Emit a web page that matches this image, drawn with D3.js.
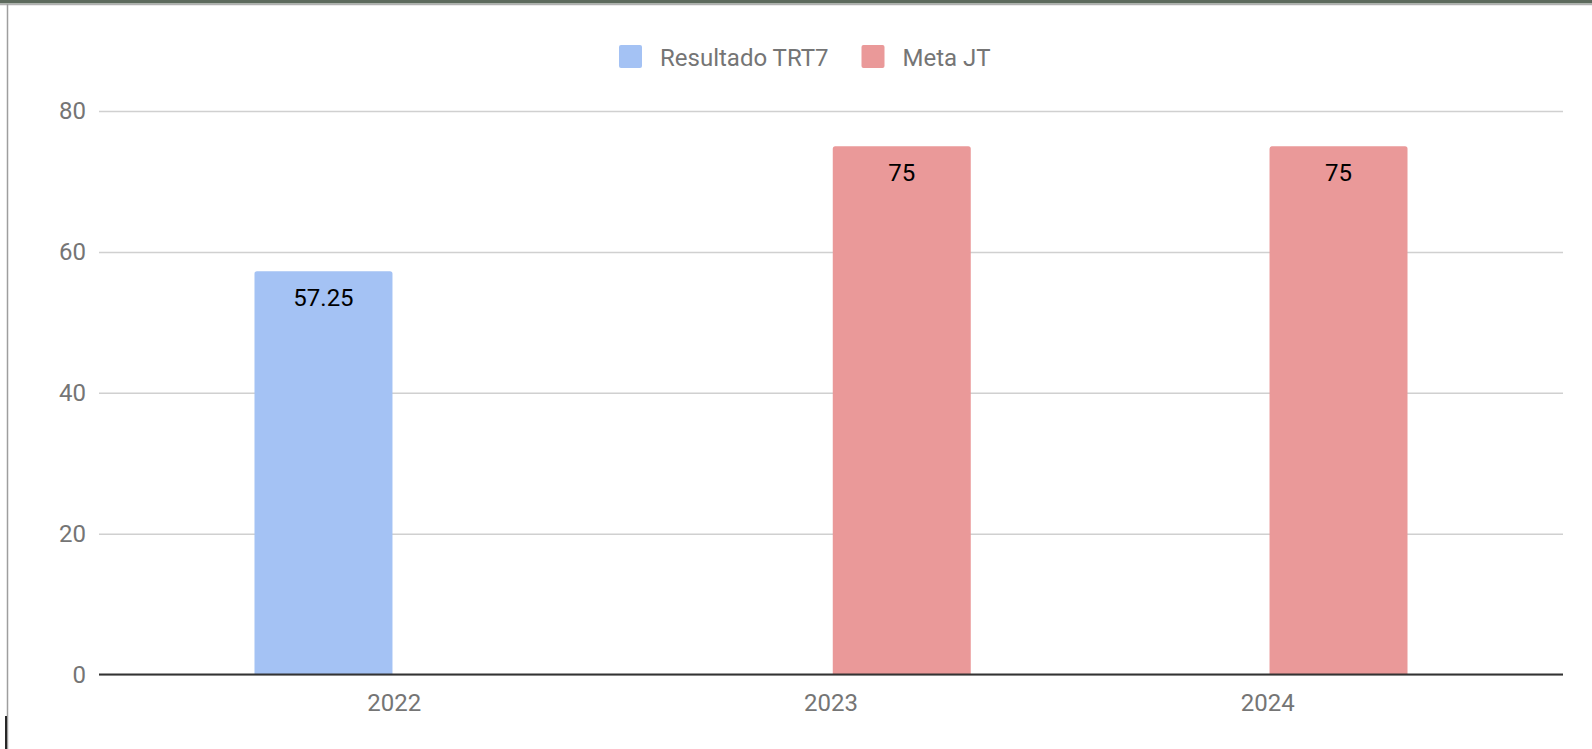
<!DOCTYPE html>
<html>
<head>
<meta charset="utf-8">
<script src="https://cdn.jsdelivr.net/npm/d3@7"></script>
<style>
  html, body { margin: 0; padding: 0; background: #fff; }
  svg { display: block; }
</style>
</head>
<body>
<svg id="chart" width="1592" height="749"></svg>
<script>
const categories = ["2022", "2023", "2024"];
const seriesNames = ["Resultado TRT7", "Meta JT"];
const resultadoTRT7 = [57.25, null, null];
const metaJT = [null, 75, 75];
const yTicks = [0, 20, 40, 60, 80];
const seriesColors = ["#a4c2f4", "#ea9999"];

const W = 1592, H = 749;
const svg = d3.select("#chart");
const font = "Roboto, 'Noto Sans', sans-serif";

// frame decorations
svg.append("rect").attr("x", 0).attr("y", 0).attr("width", W).attr("height", 3.5).attr("fill", "#5d6a5d");
svg.append("line").attr("x1", 0).attr("x2", W).attr("y1", 4.5).attr("y2", 4.5).attr("stroke", "#b0b0b0").attr("stroke-width", 1.5);
svg.append("line").attr("x1", 7.5).attr("x2", 7.5).attr("y1", 4).attr("y2", H).attr("stroke", "#9e9e9e").attr("stroke-width", 1.5);
svg.append("line").attr("x1", 6).attr("x2", 6).attr("y1", 716).attr("y2", H).attr("stroke", "#111").attr("stroke-width", 1.8);

const x0 = d3.scaleBand().domain(categories).range([99, 1563]).paddingInner(0.36).paddingOuter(0.356);
const x1 = d3.scaleBand().domain(seriesNames).range([0, x0.bandwidth()]).paddingInner(0.025);
const y = d3.scaleLinear().domain([0, 80]).range([674.5, 111]);

// gridlines
const yAxis = d3.axisLeft(y).tickValues(yTicks).tickSize(-(1563 - 99)).tickPadding(13);
const gy = svg.append("g").attr("transform", "translate(99,0)").call(yAxis);
gy.select(".domain").remove();
gy.selectAll(".tick line").attr("stroke", "#d0d0d0").attr("stroke-width", 1.5);
gy.selectAll(".tick text").attr("fill", "#757575").style("font-family", font).style("font-size", "24px");

// bars
const data = [];
categories.forEach((c, i) => {
  [resultadoTRT7, metaJT].forEach((arr, s) => {
    if (arr[i] != null) data.push({ cat: c, series: seriesNames[s], value: arr[i], color: seriesColors[s] });
  });
});

const r = 2.5;
function barPath(d) {
  const xl = x0(d.cat) + x1(d.series);
  const w = x1.bandwidth();
  const yt = y(d.value), yb = y(0);
  return `M${xl},${yb} L${xl},${yt + r} Q${xl},${yt} ${xl + r},${yt} L${xl + w - r},${yt} Q${xl + w},${yt} ${xl + w},${yt + r} L${xl + w},${yb} Z`;
}
svg.append("g").selectAll("path").data(data).join("path")
  .attr("d", barPath).attr("fill", d => d.color);

svg.append("g").selectAll("text").data(data).join("text")
  .attr("x", d => x0(d.cat) + x1(d.series) + x1.bandwidth() / 2)
  .attr("y", d => y(d.value) + 35)
  .attr("text-anchor", "middle")
  .attr("fill", "#000")
  .style("font-family", font).style("font-size", "24px")
  .text(d => d.value);

// baseline + x axis labels
const xAxis = d3.axisBottom(x0).tickSize(0).tickPadding(19);
const gx = svg.append("g").attr("transform", `translate(0,${y(0)})`).call(xAxis);
gx.select(".domain").remove();
gx.selectAll(".tick text").attr("fill", "#757575").style("font-family", font).style("font-size", "24px");
svg.append("line").attr("x1", 99).attr("x2", 1563).attr("y1", y(0)).attr("y2", y(0)).attr("stroke", "#333").attr("stroke-width", 2);

// legend
const legend = svg.append("g");
const legendItems = [
  { name: seriesNames[0], color: seriesColors[0], x: 619 },
  { name: seriesNames[1], color: seriesColors[1], x: 861.5 }
];
legendItems.forEach(it => {
  legend.append("rect").attr("x", it.x).attr("y", 45).attr("width", 23).attr("height", 23).attr("rx", 2).attr("fill", it.color);
  legend.append("text").attr("x", it.x + 41).attr("y", 65.5).attr("fill", "#757575")
    .style("font-family", font).style("font-size", "24px").text(it.name);
});
</script>
</body>
</html>
